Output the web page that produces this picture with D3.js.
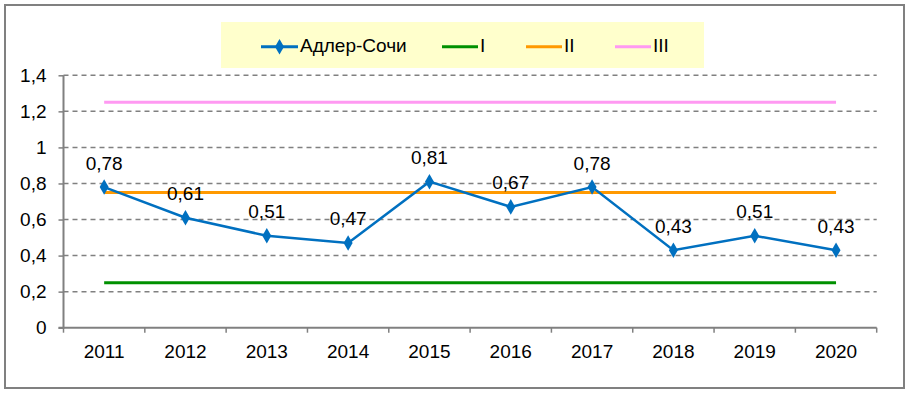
<!DOCTYPE html>
<html><head><meta charset="utf-8">
<script src="https://cdn.jsdelivr.net/npm/d3@7"></script>
<style>body{margin:0;background:#fff;}svg{display:block;font-family:"Liberation Sans",Arial,sans-serif;}</style>
</head><body><svg id="c" width="911" height="393"></svg>
<script>
const years = ["2011","2012","2013","2014","2015","2016","2017","2018","2019","2020"];
const adlerSochi = [0.78,0.61,0.51,0.47,0.81,0.67,0.78,0.43,0.51,0.43];
const levelI = 0.25, levelII = 0.75, levelIII = 1.25;
const yTicks = [0,0.2,0.4,0.6,0.8,1,1.2,1.4];
const seriesNames = ["Адлер-Сочи","I","II","III"];
const colors = {main:"#0070C0", I:"#009000", II:"#FF9900", III:"#FF99F2"};
const FS = 19;

const svg = d3.select("#c");
svg.append("rect").attr("x",5).attr("y",5).attr("width",899).attr("height",383)
  .attr("fill","#fff").attr("stroke","#808080").attr("stroke-width",2);

const L=63.5, R=876.7, T=75.3, B=327.7;
const x = d3.scaleBand().domain(years).range([L,R]);
const y = d3.scaleLinear().domain([0,1.4]).range([B,T]);
const fmt = v => String(v).replace(".",",");

// gridlines
svg.append("g").selectAll("line").data(yTicks.filter(t=>t>0)).join("line")
  .attr("x1",L).attr("x2",R).attr("y1",d=>y(d)).attr("y2",d=>y(d))
  .attr("stroke","#808080").attr("stroke-width",1.5).attr("stroke-dasharray","5,4");

// y axis
const ya = svg.append("g").attr("transform",`translate(${L},0)`)
  .call(d3.axisLeft(y).tickValues(yTicks).tickFormat(fmt).tickSize(5).tickPadding(12));
ya.select(".domain").attr("stroke","#808080").attr("stroke-width",2).attr("d",`M-5,${B}H0V${T}`);
ya.selectAll(".tick line").attr("stroke","#808080").attr("stroke-width",1.5);
ya.selectAll("text").attr("font-size",FS).attr("fill","#000").attr("font-family","Liberation Sans, Arial");

// x axis
const xa = svg.append("g").attr("transform",`translate(0,${B})`)
  .call(d3.axisBottom(x).tickSize(0).tickPadding(17));
xa.select(".domain").attr("stroke","#808080").attr("stroke-width",2).attr("d",`M${L},0H${R}`);
xa.selectAll("text").attr("font-size",FS).attr("fill","#000").attr("font-family","Liberation Sans, Arial");
const bounds = years.map(d=>x(d)).concat([R]);
svg.append("g").selectAll("line").data(bounds).join("line")
  .attr("x1",d=>d).attr("x2",d=>d).attr("y1",B).attr("y2",B+5)
  .attr("stroke","#808080").attr("stroke-width",1.5);

const cx = d => x(d)+x.bandwidth()/2;
const x0 = cx(years[0]), x1 = cx(years[years.length-1]);
// level lines
[[levelI,colors.I],[levelII,colors.II],[levelIII,colors.III]].forEach(([v,c])=>{
  svg.append("line").attr("x1",x0).attr("x2",x1).attr("y1",y(v)).attr("y2",y(v))
    .attr("stroke",c).attr("stroke-width",3);
});

// main series
const line = d3.line().x((d,i)=>cx(years[i])).y(d=>y(d));
svg.append("path").datum(adlerSochi).attr("d",line).attr("fill","none")
  .attr("stroke",colors.main).attr("stroke-width",2.5);
const diamond = d3.symbol().type(d3.symbolDiamond).size(70);
svg.append("g").selectAll("path").data(adlerSochi).join("path")
  .attr("d",diamond).attr("transform",(d,i)=>`translate(${cx(years[i])},${y(d)})`)
  .attr("fill",colors.main);
svg.append("g").selectAll("text").data(adlerSochi).join("text")
  .attr("x",(d,i)=>cx(years[i])).attr("y",d=>y(d)-17.5)
  .attr("text-anchor","middle").attr("font-size",FS).attr("fill","#000")
  .text(fmt);

// legend
const lg = svg.append("g");
lg.append("rect").attr("x",221).attr("y",22).attr("width",483).attr("height",46).attr("fill","#FFFFCC");
const items = [
  {name:seriesNames[0], c:colors.main, x1:261, x2:298, marker:true},
  {name:seriesNames[1], c:colors.I, x1:442, x2:478},
  {name:seriesNames[2], c:colors.II, x1:526, x2:562},
  {name:seriesNames[3], c:colors.III, x1:615, x2:651}
];
const ly = 46.7;
items.forEach(it=>{
  lg.append("line").attr("x1",it.x1).attr("x2",it.x2).attr("y1",ly).attr("y2",ly)
    .attr("stroke",it.c).attr("stroke-width",3);
  if(it.marker) lg.append("path").attr("d",diamond).attr("transform",`translate(${(it.x1+it.x2)/2},${ly})`).attr("fill",it.c);
  lg.append("text").attr("x",it.x2+2).attr("y",ly+5.5).attr("font-size",FS).attr("fill","#000").text(it.name);
});
</script></body></html>
